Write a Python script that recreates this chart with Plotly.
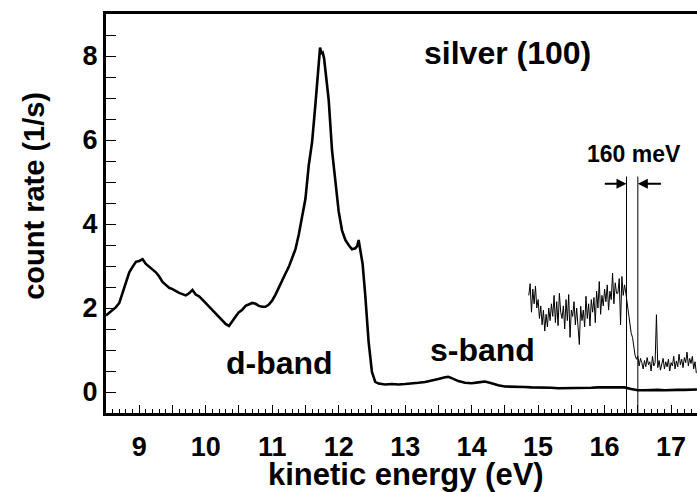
import numpy as np
import plotly.graph_objects as go

# ---- main spectrum (kinetic energy in eV, count rate in 1/s)
energy_main = [8.50, 8.55, 8.60, 8.65, 8.70, 8.75, 8.80, 8.85, 8.90, 8.95,
               9.00, 9.05, 9.10, 9.15, 9.20, 9.25, 9.30, 9.35, 9.40, 9.45,
               9.50, 9.55, 9.60, 9.65, 9.70, 9.75, 9.80, 9.85, 9.90, 9.95,
               10.00, 10.05, 10.10, 10.15, 10.20, 10.25, 10.30, 10.35, 10.40, 10.45,
               10.50, 10.55, 10.60, 10.65, 10.70, 10.75, 10.80, 10.85, 10.90, 10.95,
               11.00, 11.05, 11.10, 11.15, 11.20, 11.25, 11.30, 11.35, 11.40, 11.45,
               11.50, 11.55, 11.60, 11.65, 11.70, 11.72, 11.74, 11.76, 11.78, 11.80,
               11.85, 11.90, 11.95, 12.00, 12.05, 12.10, 12.15, 12.20, 12.25, 12.28,
               12.30, 12.33, 12.36, 12.40, 12.45, 12.50, 12.55, 12.60,
               12.7, 12.8, 12.9, 13.0, 13.1, 13.2, 13.3, 13.4, 13.5, 13.6, 13.65,
               13.7, 13.8, 13.9, 14.0, 14.1, 14.2, 14.3, 14.4, 14.5, 14.6, 14.7,
               14.8, 14.9, 15.0, 15.1, 15.2, 15.3, 15.4, 15.5, 15.6, 15.7, 15.8,
               15.9, 16.0, 16.1, 16.2, 16.3, 16.4, 16.5, 16.6, 16.7, 16.8, 16.9,
               17.0, 17.1, 17.2, 17.3, 17.4]
rate_main = [1.82, 1.88, 1.95, 2.02, 2.12, 2.35, 2.62, 2.85, 2.98, 3.10,
             3.12, 3.16, 3.05, 2.98, 2.92, 2.85, 2.75, 2.62, 2.55, 2.48,
             2.45, 2.40, 2.36, 2.33, 2.30, 2.35, 2.43, 2.32, 2.28, 2.20,
             2.12, 2.02, 1.95, 1.88, 1.80, 1.72, 1.62, 1.57, 1.70, 1.80,
             1.90, 1.96, 2.05, 2.08, 2.12, 2.10, 2.05, 2.03, 2.03, 2.08,
             2.18, 2.32, 2.50, 2.68, 2.82, 2.98, 3.18, 3.40, 3.75, 4.15,
             4.60, 5.40, 5.95, 6.85, 7.85, 8.20, 8.05, 8.08, 7.95, 7.70,
             6.95, 5.75, 4.95, 4.30, 3.85, 3.62, 3.50, 3.40, 3.42, 3.48,
             3.62, 3.38, 3.05, 2.30, 1.20, 0.48, 0.24, 0.20,
             0.18, 0.19, 0.18, 0.19, 0.20, 0.22, 0.24, 0.27, 0.31, 0.35, 0.36,
             0.33, 0.26, 0.22, 0.21, 0.23, 0.25, 0.21, 0.16, 0.13, 0.13, 0.12,
             0.12, 0.11, 0.11, 0.10, 0.10, 0.09, 0.09, 0.10, 0.09, 0.10, 0.10,
             0.11, 0.11, 0.12, 0.11, 0.11, 0.07, 0.04, 0.04, 0.05, 0.05, 0.04,
             0.05, 0.05, 0.05, 0.06, 0.06]

# ---- magnified Fermi-edge detail (noisy trace)
inset_start = 14.86
inset_step = 0.02
rate_inset = [2.30, 2.58, 1.90, 2.45, 2.10, 2.52, 2.00, 2.20,
              1.75, 2.05, 1.60, 1.95, 1.45, 1.85, 1.55, 2.00, 1.70, 2.10,
              1.80, 2.30, 1.65, 2.15, 1.58, 2.35, 1.90, 1.75, 2.05, 1.50,
              2.20, 1.70, 2.32, 1.30, 1.95, 1.80, 2.15, 1.60, 2.00, 1.40,
              1.13, 2.04, 1.70, 1.95, 1.55, 2.28, 1.75, 2.10, 1.57, 2.20,
              1.90, 2.25, 1.65, 2.40, 2.00, 2.63, 1.85, 2.30, 2.05, 2.45,
              2.15, 2.55, 1.95, 2.40, 2.20, 2.83, 2.10, 2.60, 2.35, 2.35,
              2.70, 1.60, 2.75, 2.30, 2.55, 2.35, 2.10, 1.96, 1.65, 1.40,
              1.30, 1.05, 0.86, 0.78, 0.85, 0.62, 0.80, 0.70, 0.55, 0.75,
              0.60, 0.82, 0.65, 0.72, 0.50, 0.85, 0.62, 0.70, 1.84, 0.58,
              0.75, 0.52, 0.68, 0.80, 0.55, 0.72, 0.60, 0.78, 0.50, 0.70,
              0.62, 0.85, 0.55, 0.74, 0.60, 0.90, 0.65, 0.78, 0.58, 0.82,
              0.70, 0.95, 0.62, 0.80, 0.68, 0.85, 0.55, 0.72, 0.45]
energy_inset = [round(inset_start + i * inset_step, 2) for i in range(len(rate_inset))]

# ---- resolution markers
resolution_lines = [16.33, 16.50]
resolution_top = 5.13
resolution_label = "160 meV"

# ---- ticks
x_tickvals = [8.5, 9, 9.5, 10, 10.5, 11, 11.5, 12, 12.5, 13, 13.5, 14, 14.5,
              15, 15.5, 16, 16.5, 17]
x_ticktext = ["", "9", "", "10", "", "11", "", "12", "", "13", "", "14", "",
              "15", "", "16", "", "17"]
x_minor_tickvals = [round(8.5 + 0.1 * i, 1) for i in range(90)]
y_tickvals = [0, 0.5, 1, 1.5, 2, 2.5, 3, 3.5, 4, 4.5, 5, 5.5, 6, 6.5, 7, 7.5, 8, 8.5]
y_ticktext = ["0", "", "", "", "2", "", "", "", "4", "", "", "", "6", "", "", "", "8", ""]

FONT = "Liberation Sans, Arial, sans-serif"
XRANGE = [8.5, 17.39]

fig = go.Figure()
fig.add_trace(go.Scatter(x=energy_main, y=rate_main, mode="lines",
                         line=dict(color="black", width=2.6), showlegend=False))
fig.add_trace(go.Scatter(x=energy_inset, y=rate_inset, mode="lines",
                         line=dict(color="black", width=1), showlegend=False))

for xv in resolution_lines:
    fig.add_shape(type="line", xref="x", yref="y", x0=xv, x1=xv, y0=-0.5,
                  y1=resolution_top, line=dict(color="black", width=1))

# arrows
fig.add_annotation(x=resolution_lines[0], y=4.96, ax=15.98, ay=4.96, xref="x", yref="y",
                   axref="x", ayref="y", text="", showarrow=True, arrowhead=2,
                   arrowsize=1, arrowwidth=2, arrowcolor="black")
fig.add_annotation(x=resolution_lines[1], y=4.96, ax=16.87, ay=4.96, xref="x", yref="y",
                   axref="x", ayref="y", text="", showarrow=True, arrowhead=2,
                   arrowsize=1, arrowwidth=2, arrowcolor="black")

def label(text, x, y, size):
    fig.add_annotation(x=x, y=y, xref="x", yref="y", text=text, showarrow=False,
                       xanchor="center", yanchor="middle",
                       font=dict(family=FONT, size=size, color="black", weight="bold"))

label("silver (100)", 14.54, 8.06, 32)
label(resolution_label, 16.44, 5.66, 23)
label("d-band", 11.11, 0.68, 32)
label("s-band", 14.16, 0.99, 32)

# axis titles
fig.add_annotation(x=-0.123, y=0.545, xref="paper", yref="paper", text="count rate (1/s)",
                   textangle=-90, showarrow=False, xanchor="center", yanchor="middle",
                   font=dict(family=FONT, size=29, color="black", weight="bold"))
fig.add_annotation(x=0.508, y=-0.153, xref="paper", yref="paper", text="kinetic energy (eV)",
                   showarrow=False, xanchor="center", yanchor="middle",
                   font=dict(family=FONT, size=31, color="black", weight="bold"))

fig.update_layout(
    template="none",
    width=697, height=492, margin=dict(l=106, r=0, t=14, b=79),
    paper_bgcolor="white", plot_bgcolor="white", showlegend=False,
    xaxis=dict(range=XRANGE, tickmode="array", tickvals=x_tickvals,
               ticktext=x_ticktext, ticks="inside", ticklen=8, tickwidth=1.2,
               tickcolor="black", showline=True, linecolor="black", linewidth=3,
               mirror=True, showgrid=False, zeroline=False, automargin=False,
               ticklabelstandoff=8,
               tickfont=dict(family=FONT, size=27, color="black", weight="bold")),
    xaxis2=dict(range=XRANGE, overlaying="x", anchor="y", side="bottom",
                tickmode="array", tickvals=x_minor_tickvals,
                ticktext=["" for _ in x_minor_tickvals], ticks="inside", ticklen=4,
                tickwidth=1, tickcolor="black", showline=False, showgrid=False,
                zeroline=False, automargin=False),
    yaxis=dict(range=[-0.5, 9], tickmode="array", tickvals=y_tickvals,
               ticktext=y_ticktext, ticks="inside", ticklen=10, tickwidth=1.2,
               tickcolor="black", showline=True, linecolor="black", linewidth=3,
               mirror=False, showgrid=False, zeroline=False, automargin=False,
               tickfont=dict(family=FONT, size=27, color="black", weight="bold")),
)
# invisible trace to activate the minor-tick axis
fig.add_trace(go.Scatter(x=[XRANGE[0]], y=[None], xaxis="x2", yaxis="y",
                         mode="lines", showlegend=False, hoverinfo="skip"))

fig.write_html("out.html", config={"displayModeBar": False},
               post_script="document.body.style.margin='0';"
                           "document.body.style.overflow='hidden';")
